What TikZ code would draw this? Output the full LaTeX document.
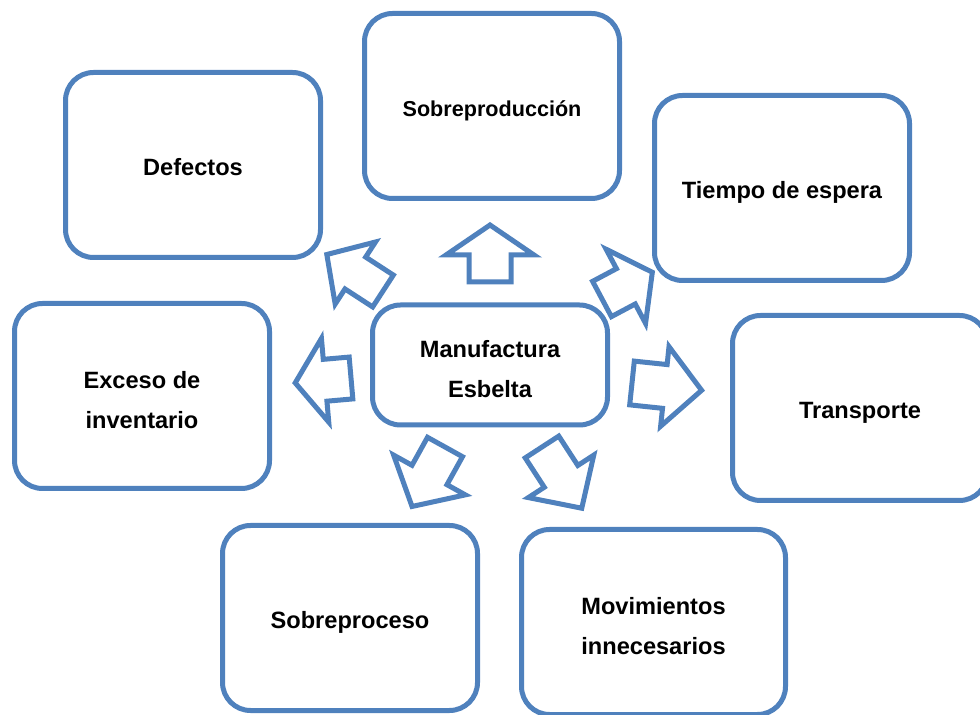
\documentclass[tikz,border=0pt]{standalone}
\usepackage{fontspec}
\setmainfont{Liberation Sans}
\definecolor{wasteblue}{RGB}{79,129,189}
\newcommand{\topstrut}{\rule{0pt}{14.6pt}}
\tikzset{
  waste/.style={draw=wasteblue, line width=2.5pt, rounded corners=14pt, fill=white,
    minimum width=127.5pt, minimum height=92.5pt, inner sep=0pt, align=center,
    font=\fontsize{11.8}{20}\selectfont\bfseries,
    execute at begin node={\rule{0pt}{13.5pt}},
    execute at end node={\rule[-2.5pt]{0pt}{2.5pt}}},
  core/.style={waste, minimum width=117.5pt, minimum height=60pt},
  arrowline/.style={draw=wasteblue, line width=2.5pt, fill=white, line join=miter}
}
% block arrow: tail, angle, length, head length, head half width, shaft half width
\newcommand{\blockarrow}[6]{%
  \draw[arrowline, shift={#1}, rotate=#2] (0,-#6) -- (#3-#4,-#6) -- (#3-#4,-#5)
    -- (#3,0) -- (#3-#4,#5) -- (#3-#4,#6) -- (0,#6) -- cycle;}

\begin{document}
\begin{tikzpicture}[x=0.5pt, y=-0.5pt]
\path[use as bounding box, clip] (0,0) rectangle (980,715);

% arrows out of the centre
\blockarrow{(490,282)}{90}{57}{30}{44}{21}
\blockarrow{(383,291)}{147}{67}{34}{37}{19}
\blockarrow{(602,299)}{28}{57}{30}{42}{20}
\blockarrow{(351,378)}{185}{56}{30}{42}{21}
\blockarrow{(632,383)}{-6}{70}{37}{40}{22}
\blockarrow{(445,447)}{-119}{68}{36}{41}{20}
\blockarrow{(542,447)}{-57}{73}{38}{39}{20}

% the seven wastes
\node[core] (centro) at (490,365) {\topstrut Manufactura\\Esbelta};
\node[waste] (defectos) at (193,165) {Defectos};
\node[waste, font=\fontsize{10.8}{20}\selectfont\bfseries] (sobreprod) at (492,106) {Sobreproducción};
\node[waste] (espera) at (782,188) {Tiempo de espera};
\node[waste] (exceso) at (142,396) {\topstrut Exceso de\\inventario};
\node[waste] (transporte) at (860,408) {Transporte};
\node[waste] (sobreproceso) at (350,618) {Sobreproceso};
\node[waste, minimum width=132pt] (movimientos) at (653.5,622) {\topstrut Movimientos\\innecesarios};
\end{tikzpicture}
\end{document}
